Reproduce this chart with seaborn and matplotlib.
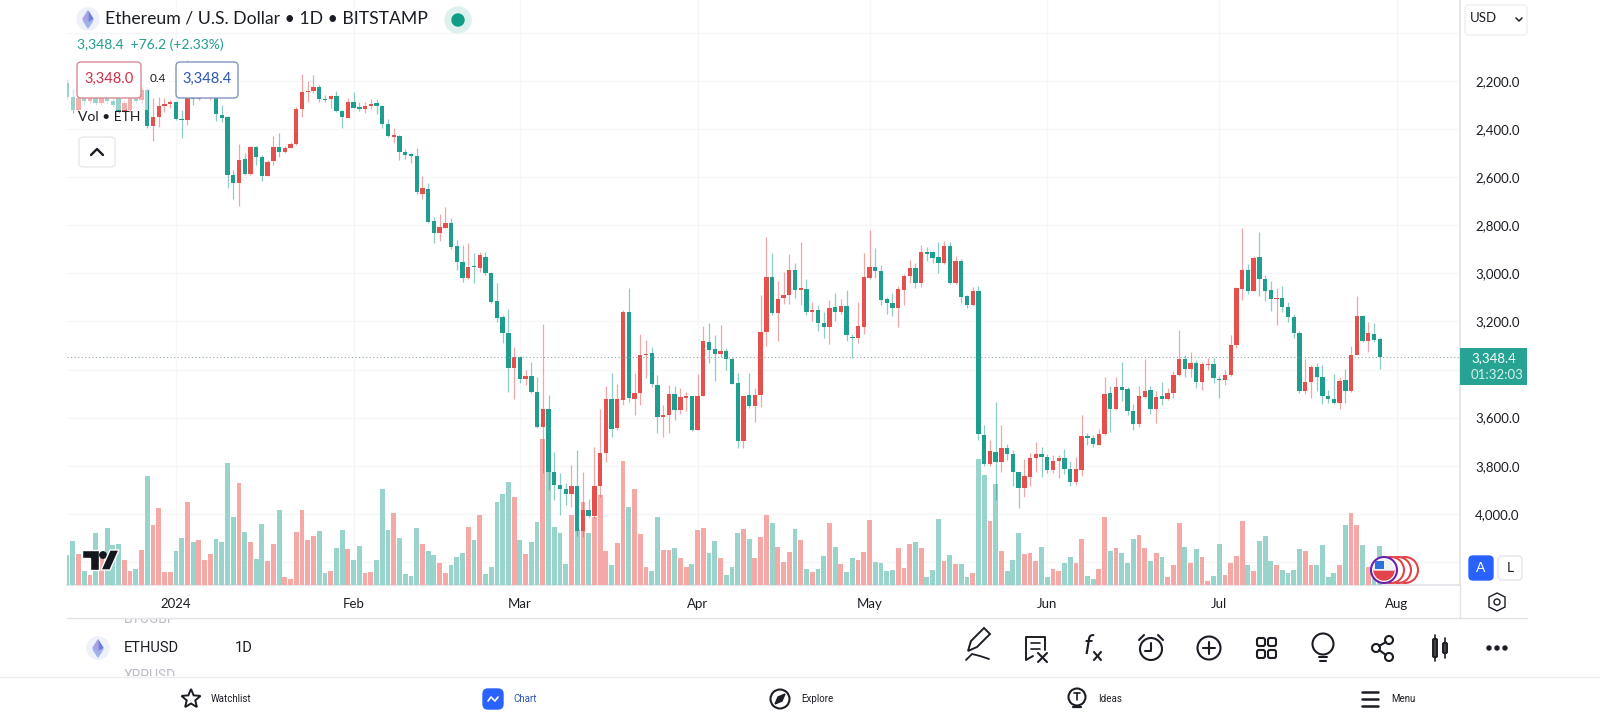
import matplotlib
matplotlib.use("Agg")
import matplotlib.pyplot as plt
import numpy as np
import pandas as pd
import seaborn as sns
from matplotlib.patches import Circle, FancyBboxPatch, Polygon, Rectangle, Wedge

# Daily candles (price axis is flipped in the original)
opens = [
    2210, 2265, 2321, 2262, 2285, 2270, 2290, 2270, 2282, 2272,
    2325, 2321, 2272, 2279, 2237, 2387, 2351, 2304, 2297, 2289,
    2358, 2362, 2250, 2276, 2262, 2270, 2265, 2341, 2351, 2591,
    2623, 2526, 2585, 2476, 2515, 2595, 2533, 2473, 2497, 2477,
    2462, 2315, 2247, 2241, 2224, 2276, 2273, 2262, 2325, 2352,
    2287, 2309, 2315, 2303, 2293, 2304, 2379, 2431, 2427, 2494,
    2505, 2512, 2670, 2649, 2781, 2833, 2810, 2792, 2886, 2951,
    3020, 2971, 2976, 2930, 2997, 3116, 3183, 3246, 3392, 3346,
    3439, 3427, 3493, 3637, 3562, 3826, 3880, 3898, 3919, 3884,
    4070, 3984, 4011, 3884, 3747, 3524, 3644, 3525, 3159, 3524,
    3496, 3341, 3332, 3464, 3597, 3591, 3501, 3567, 3517, 3510,
    3650, 3510, 3285, 3316, 3335, 3324, 3354, 3457, 3698, 3507,
    3550, 3505, 3242, 3016, 3164, 3103, 3089, 2988, 3071, 3063,
    3160, 3152, 3206, 3225, 3141, 3161, 3135, 3264, 3267, 3222,
    3019, 2972, 2991, 3107, 3123, 3142, 3069, 3010, 2977, 3042,
    2913, 2913, 2933, 2956, 2886, 3040, 2949, 3096, 3130, 3074,
    3672, 3794, 3742, 3785, 3728, 3752, 3827, 3893, 3845, 3766,
    3751, 3762, 3817, 3782, 3767, 3812, 3868, 3817, 3676, 3684,
    3712, 3669, 3498, 3565, 3472, 3482, 3572, 3627, 3515, 3484,
    3563, 3512, 3522, 3498, 3422, 3354, 3397, 3374, 3451, 3379,
    3376, 3439, 3444, 3423, 3297, 3063, 2985, 3073, 2933, 3023,
    3069, 3105, 3102, 3139, 3181, 3250, 3489, 3453, 3390, 3429,
    3511, 3523, 3541, 3443, 3489, 3339, 3177, 3281, 3253, 3272.2,
]
closes = [
    2265, 2321, 2272, 2285, 2270, 2290, 2270, 2282, 2300, 2327,
    2290, 2272, 2285, 2237, 2387, 2351, 2304, 2296, 2289, 2358,
    2362, 2272, 2276, 2262, 2250, 2255, 2337, 2352, 2591, 2623,
    2528, 2587, 2476, 2515, 2595, 2535, 2473, 2497, 2477, 2462,
    2315, 2246, 2240, 2224, 2275, 2279, 2262, 2325, 2348, 2287,
    2311, 2315, 2303, 2294, 2303, 2380, 2429, 2424, 2494, 2508,
    2512, 2663, 2646, 2785, 2831, 2808, 2792, 2889, 2951, 3020,
    2972, 2973, 2925, 2997, 3119, 3184, 3248, 3392, 3346, 3439,
    3427, 3494, 3640, 3562, 3828, 3880, 3896, 3919, 3884, 4071,
    3984, 4011, 3884, 3745, 3524, 3646, 3524, 3159, 3519, 3496,
    3341, 3336, 3458, 3596, 3591, 3501, 3567, 3515, 3510, 3651,
    3510, 3282, 3318, 3335, 3324, 3356, 3458, 3697, 3510, 3551,
    3507, 3243, 3016, 3163, 3107, 3089, 2988, 3069, 3060, 3161,
    3152, 3206, 3225, 3143, 3159, 3135, 3258, 3267, 3218, 3016,
    2974, 2992, 3109, 3123, 3142, 3066, 3010, 2977, 3040, 2913,
    2918, 2934, 2956, 2886, 3040, 2949, 3098, 3130, 3074, 3666,
    3794, 3739, 3785, 3728, 3752, 3827, 3893, 3842, 3766, 3751,
    3763, 3817, 3781, 3766, 3813, 3868, 3814, 3678, 3684, 3710,
    3667, 3501, 3565, 3471, 3486, 3572, 3627, 3512, 3489, 3563,
    3515, 3522, 3497, 3421, 3354, 3397, 3372, 3450, 3376, 3376,
    3436, 3444, 3422, 3296, 3062, 2985, 3073, 2936, 3023, 3073,
    3106, 3102, 3139, 3181, 3250, 3489, 3450, 3390, 3429, 3511,
    3522, 3541, 3446, 3489, 3339, 3177, 3281, 3249, 3278, 3348.4,
]
lows = [
    2190, 2235, 2245, 2245, 2262, 2250, 2255, 2255, 2265, 2250,
    2280, 2255, 2240, 2225, 2230, 2272, 2265, 2272, 2279, 2285,
    2321, 2113, 2230, 2240, 2225, 2235, 2240, 2300, 2345, 2570,
    2462, 2501, 2470, 2470, 2508, 2528, 2429, 2418, 2470, 2452,
    2310, 2171, 2199, 2175, 2217, 2258, 2258, 2240, 2322, 2272,
    2244, 2286, 2286, 2276, 2276, 2300, 2359, 2397, 2425, 2484,
    2500, 2479, 2595, 2623, 2767, 2753, 2725, 2771, 2861, 2882,
    2872, 2914, 2910, 2912, 2993, 3041, 3173, 3147, 3307, 3344,
    3402, 3367, 3429, 3210, 3506, 3741, 3831, 3873, 3797, 3734,
    3827, 3939, 3720, 3565, 3468, 3415, 3460, 3152, 3062, 3415,
    3253, 3277, 3305, 3422, 3547, 3464, 3468, 3478, 3492, 3508,
    3418, 3219, 3208, 3256, 3214, 3311, 3352, 3413, 3508, 3415,
    3477, 3091, 2850, 2916, 3033, 2994, 2919, 2958, 2870, 3024,
    3121, 3131, 3159, 3110, 3080, 3107, 3071, 3252, 3121, 2916,
    2819, 2893, 2965, 3099, 3080, 3052, 3002, 2944, 2955, 2882,
    2891, 2905, 2869, 2864, 2868, 2927, 2940, 3090, 3058, 3052,
    3630, 3695, 3533, 3630, 3710, 3734, 3825, 3773, 3745, 3703,
    3723, 3751, 3755, 3755, 3730, 3782, 3762, 3588, 3662, 3672,
    3648, 3432, 3468, 3429, 3367, 3473, 3544, 3468, 3356, 3468,
    3489, 3450, 3475, 3408, 3235, 3339, 3325, 3362, 3367, 3353,
    3353, 3425, 3401, 3256, 3058, 2812, 2961, 2926, 2827, 3006,
    3030, 3062, 3052, 3120, 3170, 3239, 3356, 3383, 3374, 3380,
    3484, 3418, 3432, 3397, 3304, 3092, 3175, 3201, 3205, 3266,
]
highs = [
    2275, 2334, 2330, 2300, 2295, 2300, 2300, 2290, 2310, 2335,
    2330, 2328, 2290, 2290, 2397, 2449, 2390, 2327, 2314, 2362,
    2436, 2383, 2300, 2280, 2272, 2280, 2365, 2369, 2646, 2692,
    2720, 2590, 2590, 2549, 2616, 2597, 2549, 2515, 2500, 2480,
    2465, 2351, 2286, 2251, 2286, 2286, 2314, 2327, 2397, 2355,
    2314, 2323, 2332, 2315, 2339, 2397, 2434, 2456, 2528, 2526,
    2541, 2668, 2692, 2789, 2875, 2864, 2813, 2900, 2986, 3034,
    3023, 3041, 2993, 3007, 3122, 3201, 3291, 3492, 3524, 3457,
    3464, 3496, 3644, 3831, 3901, 3942, 4004, 3963, 3970, 4092,
    4095, 4014, 4018, 3931, 3783, 3679, 3650, 3547, 3533, 3589,
    3547, 3436, 3471, 3665, 3679, 3665, 3610, 3586, 3571, 3654,
    3652, 3512, 3371, 3447, 3346, 3402, 3460, 3727, 3727, 3561,
    3619, 3556, 3301, 3175, 3281, 3128, 3127, 3101, 3131, 3173,
    3200, 3239, 3267, 3295, 3196, 3170, 3281, 3353, 3288, 3252,
    3024, 3020, 3131, 3168, 3177, 3224, 3131, 3038, 3062, 3058,
    2947, 2955, 2997, 2961, 3044, 3045, 3124, 3146, 3135, 3695,
    3800, 3800, 3942, 3828, 3778, 3884, 3974, 3928, 3884, 3824,
    3848, 3831, 3831, 3852, 3834, 3886, 3879, 3842, 3713, 3723,
    3715, 3672, 3658, 3568, 3530, 3591, 3651, 3640, 3518, 3586,
    3623, 3547, 3525, 3519, 3425, 3429, 3429, 3475, 3484, 3401,
    3457, 3519, 3464, 3427, 3311, 3110, 3085, 3075, 3096, 3113,
    3155, 3214, 3159, 3203, 3270, 3498, 3501, 3519, 3491, 3544,
    3540, 3545, 3563, 3540, 3492, 3340, 3286, 3328, 3285, 3398,
]
# volume in hundreds of ETH
volumes = [
    90, 132, 92, 42, 30, 157, 80, 170, 119, 123,
    74, 43, 48, 104, 328, 180, 230, 40, 40, 102,
    142, 248, 130, 136, 74, 92, 138, 128, 366, 205,
    307, 158, 128, 78, 182, 72, 124, 226, 24, 18,
    158, 225, 134, 146, 162, 36, 42, 112, 164, 108,
    76, 118, 36, 40, 74, 288, 166, 216, 140, 34,
    26, 170, 124, 102, 91, 66, 36, 60, 84, 96,
    174, 134, 210, 34, 54, 248, 274, 308, 264, 136,
    92, 128, 188, 438, 375, 175, 157, 64, 211, 168,
    250, 156, 205, 270, 102, 60, 126, 371, 234, 287,
    152, 55, 43, 203, 105, 105, 112, 82, 55, 63,
    165, 171, 95, 133, 82, 30, 55, 157, 168, 139,
    82, 144, 210, 186, 114, 68, 98, 168, 134, 49,
    38, 49, 88, 186, 115, 62, 40, 82, 74, 98,
    194, 69, 65, 43, 45, 112, 52, 123, 129, 110,
    25, 45, 197, 73, 91, 63, 63, 25, 35, 379,
    330, 193, 303, 103, 43, 75, 157, 93, 95, 71,
    113, 25, 47, 43, 67, 85, 67, 137, 27, 19,
    47, 205, 101, 111, 95, 65, 137, 151, 111, 73,
    95, 83, 23, 61, 187, 115, 65, 107, 83, 13,
    27, 123, 29, 67, 87, 191, 59, 43, 131, 147,
    73, 59, 45, 35, 45, 109, 101, 59, 61, 121,
    23, 35, 61, 179, 217, 181, 119, 55, 20, 117,
]
first_day = "2023-12-13"
price_ticks = [2000, 2200, 2400, 2600, 2800, 3000, 3200, 3400, 3600, 3800, 4000, 4200]
unlabelled_ticks = [2000, 3400, 4200]  # 3,400 sits under the last-price tag
month_ticks = ["2024-01-01", "2024-02-01", "2024-03-01", "2024-04-01",
               "2024-05-01", "2024-06-01", "2024-07-01", "2024-08-01"]
month_labels = ["2024", "Feb", "Mar", "Apr", "May", "Jun", "Jul", "Aug"]
last_price = 3348.4

TEAL = "#1f9e8f"
RED = "#e5504d"
TEAL_VOL = "#98d4cc"
RED_VOL = "#f5a9a7"
GRID = "#f5f6f8"
LINE = "#e2e4ea"
INK = "#1b1d24"
BLUE = "#2962ff"
TEXT_FONT = ["Lato", "DejaVu Sans"]
NAV_FONT = ["Roboto", "DejaVu Sans"]

sns.set_theme(style="white")
plt.rcParams["font.family"] = TEXT_FONT

df = pd.DataFrame({"open": opens, "close": closes, "low": lows, "high": highs, "volume": volumes})
df["date"] = pd.date_range(first_day, periods=len(df), freq="D")
df["day"] = np.arange(len(df))
df["dir"] = np.where(df["close"] >= df["open"], "up", "down")
month_pos = [(pd.Timestamp(m) - pd.Timestamp(first_day)).days for m in month_ticks]

fig = plt.figure(figsize=(16, 7.2), dpi=100)
# plot rect in pixels: x 67-1460, y 0-585 from the top
rect = [67 / 1600, 1 - 585 / 720, (1460 - 67) / 1600, 585 / 720]
x_range = (0, 243)
price_range = (4296, 1863)


# grid and labels sit at the bottom, then volume, then candles
ax_grid = fig.add_axes(rect)
ax_grid.set_xlim(x_range)
ax_grid.set_ylim(price_range)
ax_grid.yaxis.tick_right()
ax_grid.set_yticks(price_ticks)
ax_grid.set_yticklabels(["" if p in unlabelled_ticks else f"{p:,}.0" for p in price_ticks], color=INK, fontsize=9.5)
ax_grid.set_xticks(month_pos)
ax_grid.set_xticklabels(month_labels, color=INK, fontsize=9.5)
ax_grid.tick_params(length=0, axis="y", pad=11)
ax_grid.tick_params(length=0, axis="x", pad=9)
ax_grid.grid(True, color=GRID, linewidth=1)
for side in ["top", "left"]:
    ax_grid.spines[side].set_visible(False)
for side in ["right", "bottom"]:
    ax_grid.spines[side].set_color(LINE)

ax_vol = fig.add_axes(rect, facecolor="none")
sns.barplot(data=df, x="day", y="volume", hue="dir", hue_order=["up", "down"],
            palette={"up": TEAL_VOL, "down": RED_VOL}, native_scale=True, dodge=False,
            width=0.84, saturation=1, legend=False, linewidth=0, ax=ax_vol, zorder=1)
ax_vol.set_xlim(x_range)
ax_vol.set_ylim(0, 1755)
ax_vol.axis("off")

ax = fig.add_axes(rect, facecolor="none")
ax.axhline(last_price, color="#8fa5a1", linewidth=0.8, linestyle=(0, (1, 2.2)))
up = df[df["dir"] == "up"]
down = df[df["dir"] == "down"]
for part, color in [(up, TEAL), (down, RED)]:
    ax.vlines(part["day"], part["low"], part["high"], color=color, linewidth=0.9, alpha=0.5)
    ax.bar(part["day"], (part["close"] - part["open"]).abs().clip(lower=4),
           bottom=part[["open", "close"]].min(axis=1), width=0.76, color=color, linewidth=0)
ax.set_xlim(x_range)
ax.set_ylim(price_range)
ax.axis("off")

# everything else is app chrome, drawn in screen pixels
ui = fig.add_axes([0, 0, 1, 1], facecolor="none")
ui.set_xlim(0, 1600)
ui.set_ylim(720, 0)
ui.axis("off")


def label(x, y, s, size=9.5, color=INK, ha="left", font=TEXT_FONT, **kw):
    return ui.text(x, y, s, fontsize=size, color=color, ha=ha, va="center", family=font, **kw)


def box(x0, y0, x1, y1, edge, face="white", radius=4, lw=1, alpha=1):
    ui.add_patch(FancyBboxPatch((x0, y0), x1 - x0, y1 - y0, boxstyle=f"round,pad=0,rounding_size={radius}",
                                edgecolor=edge, facecolor=face, linewidth=lw, alpha=alpha))


def eth_icon(x, y):
    ui.add_patch(Circle((x, y), 11, color="#eef0fa"))
    ui.add_patch(Polygon([(x, y - 8), (x + 5, y), (x, y + 3)], color="#6f7fd8"))
    ui.add_patch(Polygon([(x, y - 8), (x - 5, y), (x, y + 3)], color="#a7a3e8"))
    ui.add_patch(Polygon([(x - 5, y + 1), (x, y + 9), (x + 5, y + 1), (x, y + 4)], color="#9fb2ee"))


def stroke(xs, ys, lw=1.5, color=INK):
    ui.plot(xs, ys, color=color, linewidth=lw, solid_capstyle="round")


def ring(x, y, r, lw=1.5, color=INK, face="none"):
    ui.add_patch(Circle((x, y), r, edgecolor=color, facecolor=face, linewidth=lw))


# legend
ui.add_patch(Rectangle((67, 58), 81, 52, color="white", alpha=0.55, linewidth=0))
eth_icon(88, 19)
label(105, 19, "Ethereum / U.S. Dollar • 1D • BITSTAMP", size=12.7)
ui.add_patch(Circle((458, 20), 13, color="#dff1ee"))
ui.add_patch(Circle((458, 20), 6, color="#0f9d85"))
label(77, 45, "3,348.4  +76.2 (+2.33%)", size=10, color=TEAL)
box(77, 62, 141, 98, "#d88a96")
label(109, 79, "3,348.0", size=10.5, color="#cf3049", ha="center")
label(158, 79, "0.4", size=8.5, ha="center")
box(176, 62, 238, 98, "#8296bf")
label(207, 79, "3,348.4", size=10.5, color="#2a55b5", ha="center")
label(78, 117, "Vol • ETH", size=10)
box(79, 137, 115, 167, "#e6e7ea")
stroke([91, 97, 103], [155, 149, 155], lw=1.7)

# right scale extras
box(1465, 5, 1527, 35, "#eceef1")
label(1470, 18, "USD", size=9.5)
stroke([1516, 1519, 1522], [18, 21, 18], lw=1.1)
ui.add_patch(Rectangle((1460, 348), 67, 37, color="#26a392", linewidth=0))
label(1471, 358, "3,348.4", size=9.5, color="white")
label(1471, 375, "01:32:03", size=9.5, color="#d8f2ee")
ui.add_patch(Polygon([(1497, 593), (1505, 597), (1505, 607), (1497, 611), (1489, 607), (1489, 597)],
                     closed=True, edgecolor=INK, facecolor="none", linewidth=1))
ring(1497, 602, 3, lw=1)
stroke([67, 1527], [618, 618], lw=1, color=LINE)
stroke([1460, 1460], [585, 618], lw=1, color=LINE)

# TradingView mark
ui.add_patch(Polygon([(82, 550), (99, 550), (99, 570), (90, 570), (90, 558), (82, 558)],
                     facecolor="#14161d", edgecolor="white", linewidth=1))
ui.add_patch(Circle((103, 555), 3.2, color="#14161d"))
ui.add_patch(Polygon([(110, 550), (119, 550), (110, 570), (101, 570)],
                     facecolor="#14161d", edgecolor="white", linewidth=1))

# A / L buttons and flags
box(1469, 556, 1493, 580, BLUE, face=BLUE)
label(1481, 568, "A", size=10, color="white", ha="center")
box(1498, 556, 1522, 580, "#e4e6ea")
label(1510, 568, "L", size=10, ha="center")
for cx in [1405, 1398, 1391]:
    ring(cx, 570, 13, lw=1.5, color="#e2444c", face="white")
ring(1384, 570, 13, lw=1.5, color="#6a1fa8", face="white")
ui.add_patch(Wedge((1384, 570), 10, 0, 180, color="#e2444c"))
ui.add_patch(Wedge((1384, 570), 10, 180, 360, color="#f1f1f4"))
ui.add_patch(Rectangle((1375, 561), 9, 8, color="#2d6fd8", linewidth=0))

# symbol row, neighbours cut off by the list edges
fade_top = label(124, 619, "BTCGBP", size=10, color="#b9bcc4", font=NAV_FONT, clip_on=True)
fade_top.set_clip_path(Rectangle((67, 619), 300, 20, transform=ui.transData))
fade_low = label(124, 676, "XRPUSD", size=10, color="#b9bcc4", font=NAV_FONT, clip_on=True)
fade_low.set_clip_path(Rectangle((67, 660), 300, 16, transform=ui.transData))
eth_icon(98, 648)
label(124, 648, "ETHUSD", size=10.5, font=NAV_FONT)
label(235, 648, "1D", size=10.5, font=NAV_FONT)
stroke([0, 1600], [677, 677], lw=1, color="#eceef1")

# toolbar icons
ui.add_patch(Polygon([(968, 651), (971, 641), (984, 628), (990, 634), (977, 647)],
                     edgecolor=INK, facecolor="none", linewidth=1.4))
stroke([966, 972, 980, 989], [660, 654, 656, 659], lw=1.3)
stroke([1045, 1045, 1026, 1026, 1033], [650, 637, 637, 660, 656], lw=1.4)
stroke([1031, 1040], [643, 643], lw=1.2)
stroke([1031, 1040], [649, 649], lw=1.2)
stroke([1038, 1047], [653, 662])
stroke([1047, 1038], [653, 662])
ui.text(1088, 647, "f", fontsize=18, style="italic", color=INK, ha="center", va="center", family=NAV_FONT)
stroke([1094, 1101], [652, 660])
stroke([1101, 1094], [652, 660])
ring(1151, 649, 11)
stroke([1151, 1151, 1145], [643, 651, 651])
stroke([1139, 1144], [640, 635])
stroke([1163, 1158], [640, 635])
ring(1209, 648, 11.5)
stroke([1203, 1215], [648, 648])
stroke([1209, 1209], [642, 654])
for gx in [1261, 1272]:
    for gy in [642, 654]:
        box(gx - 4, gy - 4, gx + 4, gy + 4, INK, face="none", radius=2, lw=1.5)
ring(1323, 644, 10.5)
stroke([1319, 1327], [657, 657])
stroke([1320, 1326], [661, 661])
ring(1376, 648, 4)
ring(1389, 640, 4)
ring(1389, 657, 4)
stroke([1379, 1386], [646, 642])
stroke([1379, 1386], [650, 655])
box(1433, 639, 1437, 657, INK, face="none", radius=1, lw=1.4)
box(1443, 643, 1447, 653, INK, face="none", radius=1, lw=1.4)
stroke([1435, 1435], [635, 661], lw=1.2)
stroke([1445, 1445], [638, 658], lw=1.2)
for dx in [1489, 1497, 1505]:
    ui.add_patch(Circle((dx, 648), 2, color=INK))

# bottom nav
star = np.arange(10) * np.pi / 5 - np.pi / 2
star_r = np.where(np.arange(10) % 2 == 0, 10, 4.5)
ui.add_patch(Polygon(np.column_stack([191 + star_r * np.cos(star), 699 + star_r * np.sin(star)]),
                     edgecolor=INK, facecolor="none", linewidth=1.4))
label(211, 699, "Watchlist", size=7, font=NAV_FONT)
box(483, 689, 503, 709, BLUE, face=BLUE, radius=5)
stroke([488, 491, 495, 498], [701, 697, 701, 697], lw=1.2, color="white")
label(513, 699, "Chart", size=7, color="#2a55b5", font=NAV_FONT)
ring(780, 699, 9.5)
ui.add_patch(Polygon([(785, 694), (782, 701), (775, 704), (778, 697)], color=INK))
label(801, 699, "Explore", size=7, font=NAV_FONT)
ring(1077, 697, 8.5)
stroke([1074, 1080], [693, 693], lw=1.2)
stroke([1077, 1077], [693, 700], lw=1.2)
stroke([1073, 1081], [707, 707], lw=1.6)
label(1098, 699, "Ideas", size=7, font=NAV_FONT)
for my in [692, 699, 706]:
    stroke([1362, 1378], [my, my], lw=1.8)
label(1391, 699, "Menu", size=7, font=NAV_FONT)

fig.savefig("out.png", dpi=100, facecolor="white")
